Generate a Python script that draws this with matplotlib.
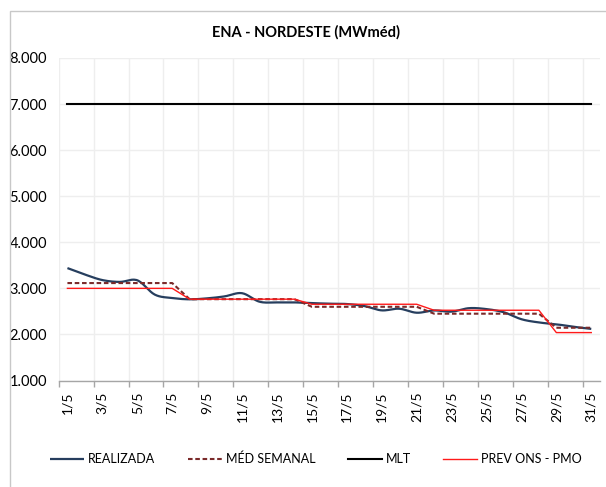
import numpy as np
import matplotlib
matplotlib.use("Agg")
import matplotlib.pyplot as plt
from matplotlib.patches import Rectangle

plt.rcParams['font.family'] = ['Lato', 'DejaVu Sans']

days = ["1/5", "2/5", "3/5", "4/5", "5/5", "6/5", "7/5", "8/5", "9/5", "10/5",
        "11/5", "12/5", "13/5", "14/5", "15/5", "16/5", "17/5", "18/5", "19/5", "20/5",
        "21/5", "22/5", "23/5", "24/5", "25/5", "26/5", "27/5", "28/5", "29/5", "30/5", "31/5"]

realizada = [3440, 3300, 3180, 3140, 3175, 2865, 2790, 2762, 2783, 2826,
             2895, 2710, 2695, 2695, 2680, 2667, 2660, 2616, 2522, 2558,
             2471, 2520, 2495, 2570, 2550, 2480, 2330, 2260, 2220, 2165, 2120]

med_semanal = [3115, 3115, 3115, 3115, 3115, 3115, 3115,
               2765, 2765, 2765, 2765, 2765, 2765, 2765,
               2600, 2600, 2600, 2600, 2600, 2600, 2600,
               2450, 2450, 2450, 2450, 2450, 2450, 2450,
               2145, 2145, 2145]

mlt = [7000] * 31

prev_ons = [3000, 3000, 3000, 3000, 3000, 3000, 3000,
            2765, 2765, 2765, 2765, 2765, 2765, 2765,
            2655, 2655, 2655, 2655, 2655, 2655, 2655,
            2525, 2525, 2525, 2525, 2525, 2525, 2525,
            2040, 2040, 2040]

yticks = [1000, 2000, 3000, 4000, 5000, 6000, 7000, 8000]
ytick_labels = ["1.000", "2.000", "3.000", "4.000", "5.000", "6.000", "7.000", "8.000"]


def smooth(x, y, n=16):
    # Bezier rendering with 1/6 tension (Excel's "smoothed line" option)
    x = np.asarray(x, float)
    y = np.asarray(y, float)
    px = np.concatenate([[x[0]], x, [x[-1]]])
    py = np.concatenate([[y[0]], y, [y[-1]]])
    xs, ys = [], []
    t = np.linspace(0, 1, n, endpoint=False)
    for i in range(1, len(px) - 2):
        p0x, p1x, p2x, p3x = px[i - 1], px[i], px[i + 1], px[i + 2]
        p0y, p1y, p2y, p3y = py[i - 1], py[i], py[i + 1], py[i + 2]
        c1x, c1y = p1x + (p2x - p0x) / 6, p1y + (p2y - p0y) / 6
        c2x, c2y = p2x - (p3x - p1x) / 6, p2y - (p3y - p1y) / 6
        b0 = (1 - t) ** 3
        b1 = 3 * (1 - t) ** 2 * t
        b2 = 3 * (1 - t) * t ** 2
        b3 = t ** 3
        xs.append(b0 * p1x + b1 * c1x + b2 * c2x + b3 * p2x)
        ys.append(b0 * p1y + b1 * c1y + b2 * c2y + b3 * p2y)
    xs.append([x[-1]])
    ys.append([y[-1]])
    return np.concatenate(xs), np.concatenate(ys)


W, H = 606, 487
fig = plt.figure(figsize=(W / 100, H / 100), dpi=100)
fig.patch.set_facecolor('white')

# chart frame
fig.add_artist(Rectangle((10 / W, -0.1), 1.2, 1 - 10.5 / H + 0.1,
                         transform=fig.transFigure, fill=False,
                         edgecolor='#C8C8C8', lw=1.0))

ax = fig.add_axes([58.7 / W, 1 - 380.5 / H, (600 - 58.7) / W, (380.5 - 58) / H])
x = np.arange(len(days)) + 0.5

sx, sy = smooth(x, realizada)
l1, = ax.plot(sx, sy, color='#263E5E', lw=1.6, solid_capstyle='butt', zorder=3)
l2, = ax.plot(x, med_semanal, color='#7A2A2A', lw=1.5, linestyle=(0, (2.2, 1.3)), zorder=4)
l3, = ax.plot(x, mlt, color='#000000', lw=1.5, zorder=3)
l4, = ax.plot(x, prev_ons, color='#FF1A1A', lw=1.0, zorder=5)

ax.set_xlim(0, len(days))
ax.set_ylim(1000, 8000)
ax.set_yticks(yticks)
ax.set_yticklabels(ytick_labels)
ax.set_xticks(np.arange(0, len(days), 2))
ax.set_xticklabels([])
ax.set_xticks(x[::2], minor=True)
ax.set_xticklabels(days[::2], minor=True, rotation=90)

ax.grid(True, which='major', color='#EEEEEE', lw=1.0)
ax.set_axisbelow(True)
for s in ['top', 'right', 'left']:
    ax.spines[s].set_visible(False)
ax.spines['bottom'].set_color('#A6A6A6')
ax.spines['bottom'].set_linewidth(1.0)
ax.tick_params(axis='x', which='major', length=4, color='#A6A6A6', width=1.0, direction='out')
ax.tick_params(axis='x', which='minor', length=0, pad=8, labelsize=10, labelcolor='#000000')
ax.tick_params(axis='y', length=0, pad=8.5, labelsize=10.5, labelcolor='#000000')

fig.text(306 / W, 1 - 32 / H, "ENA - NORDESTE (MWméd)", ha='center', va='center',
         fontsize=10.5, fontweight='bold', color='#000000')

fig.legend([l1, l2, l3, l4], ["REALIZADA", "MÉD SEMANAL", "MLT", "PREV ONS - PMO"],
           loc='center', bbox_to_anchor=(316 / W, 1 - 459 / H), ncol=4, frameon=False,
           fontsize=9, handlelength=2.72, handletextpad=0.32, columnspacing=2.6)

fig.savefig("out.png", dpi=100, facecolor='white')
